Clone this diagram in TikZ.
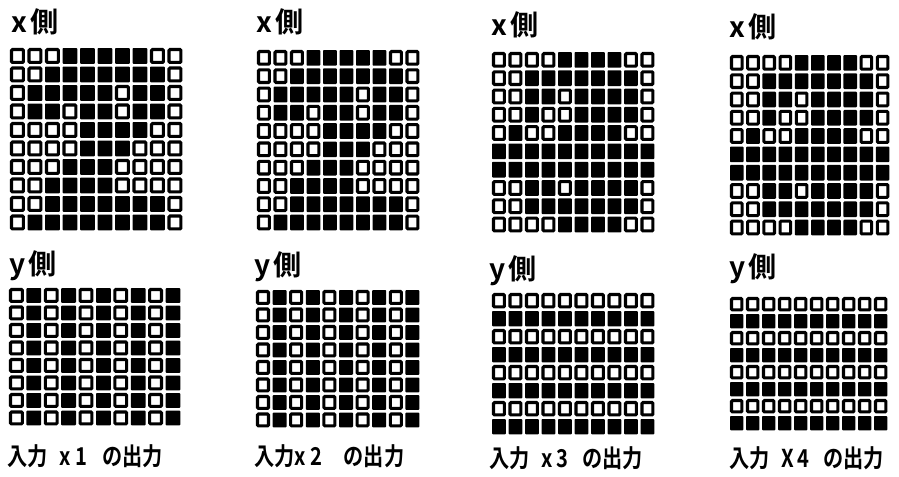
\documentclass[tikz,border=0pt]{standalone}
\usepackage{fontspec}
\newfontfamily\jpfont{Noto Sans CJK JP}[BoldFont={* Bold}]
\usetikzlibrary{positioning}

% cell patterns, one brace group per row (1 = filled)
\def\xpatA{{0,0,0,1,1,1,1,1,0,0},{0,0,1,1,1,1,1,1,1,0},{0,1,1,1,1,1,0,1,1,0},%
  {0,1,1,0,1,1,0,1,1,0},{0,0,0,0,1,1,1,1,0,0},{0,0,0,0,1,1,1,0,0,0},%
  {0,0,0,1,1,1,0,0,0,0},{0,0,1,1,1,1,0,0,0,0},{0,0,1,1,1,1,1,1,1,0},%
  {0,1,1,1,1,1,1,1,1,0}}
\def\xpatB{{0,0,0,0,1,1,1,1,0,0},{0,0,1,1,1,1,1,1,1,0},{0,0,1,1,0,1,1,1,1,0},%
  {0,0,1,0,0,1,1,1,1,0},{0,1,0,0,1,1,1,1,0,0},{1,1,1,1,1,1,1,1,1,1},%
  {1,1,1,1,1,1,1,1,1,1},{0,0,1,1,0,1,1,1,1,0},{0,0,1,1,1,1,1,1,1,0},%
  {0,0,0,0,1,1,1,1,0,0}}
\def\ypatA{{0,1,0,1,0,1,0,1,0,1},{0,1,0,1,0,1,0,1,0,1},{0,1,0,1,0,1,0,1,0,1},%
  {0,1,0,1,0,1,0,1,0,1},{0,1,0,1,0,1,0,1,0,1},{0,1,0,1,0,1,0,1,0,1},%
  {0,1,0,1,0,1,0,1,0,1},{0,1,0,1,0,1,0,1,0,1}}
\def\ypatB{{0,0,0,0,0,0,0,0,0,0},{1,1,1,1,1,1,1,1,1,1},{0,0,0,0,0,0,0,0,0,0},%
  {1,1,1,1,1,1,1,1,1,1},{0,0,0,0,0,0,0,0,0,0},{1,1,1,1,1,1,1,1,1,1},%
  {0,0,0,0,0,0,0,0,0,0},{1,1,1,1,1,1,1,1,1,1}}

% #1,#2 = top left, #3,#4 = pitch, #5 = pattern
\newcommand\dotgrid[5]{%
  \foreach \bits [count=\r] in #5 {
    \foreach \b [count=\c] in \bits {
      \pgfmathsetmacro\cx{#1+(\c-1)*#3}
      \pgfmathsetmacro\cy{#2+(\r-1)*#4}
      \ifnum\b=1
        \fill[oncell] (\cx,\cy) rectangle ++(#3-2.6,#4-2.6);
      \else
        \draw[offcell] (\cx+1.5,\cy+1.5) rectangle ++(#3-5.6,#4-5.6);
      \fi
    }
  }}
\newcommand\narrow[1]{\scalebox{0.82}[1]{#1}}

\begin{document}
\begin{tikzpicture}[
    x=0.03cm, y=-0.03cm,
    every node/.style={inner sep=0pt},
    sidelabel/.style={anchor=base west, font=\jpfont\bfseries\fontsize{24}{28}\selectfont},
    caption/.style={anchor=base west, font=\jpfont\bfseries\fontsize{21}{24}\selectfont},
    oncell/.style={fill=black, rounded corners=0.8pt},
    offcell/.style={draw=black, line width=2.6pt, rounded corners=0.8pt},
]
\useasboundingbox (0,0) rectangle (899,476);

% x side
\node[sidelabel] (xlab1) at (11,32)  {x\hspace{0.1cm}側};
\node[sidelabel] (xlab2) at (256,32) {x\hspace{0.1cm}側};
\node[sidelabel] (xlab3) at (491,35) {x\hspace{0.1cm}側};
\node[sidelabel] (xlab4) at (729,37) {x\hspace{0.1cm}側};
\dotgrid{10}{48}{17.5}{18.5}{\xpatA}
\dotgrid{257}{50}{16.5}{18.3}{\xpatA}
\dotgrid{492}{52}{16.5}{18.3}{\xpatB}
\dotgrid{730}{55}{16.2}{18.3}{\xpatB}

% y side
\node[sidelabel] (ylab1) at (9,274)   {y\hspace{0.1cm}側};
\node[sidelabel] (ylab2) at (254,275) {y\hspace{0.1cm}側};
\node[sidelabel] (ylab3) at (489,279) {y\hspace{0.1cm}側};
\node[sidelabel] (ylab4) at (729,277) {y\hspace{0.1cm}側};
\dotgrid{9}{288}{17.4}{17.5}{\ypatA}
\dotgrid{256}{290}{16.6}{17.5}{\ypatA}
\dotgrid{492}{293}{16.5}{18}{\ypatB}
\dotgrid{730}{297}{16}{17}{\ypatB}

% captions
\node[caption] (cap1) at (7,465)   {\narrow{入力\hspace{0.45cm}x\hspace{0.15cm}1\hspace{0.55cm}の出力}};
\node[caption] (cap2) at (254,465) {\narrow{入力x\hspace{0.15cm}2\hspace{0.8cm}の出力}};
\node[caption] (cap3) at (489,467) {\narrow{入力\hspace{0.42cm}x\hspace{0.15cm}3\hspace{0.5cm}の出力}};
\node[caption] (cap4) at (729,467) {\narrow{入力\hspace{0.42cm}X\hspace{0.15cm}4\hspace{0.5cm}の出力}};

\end{tikzpicture}
\end{document}
